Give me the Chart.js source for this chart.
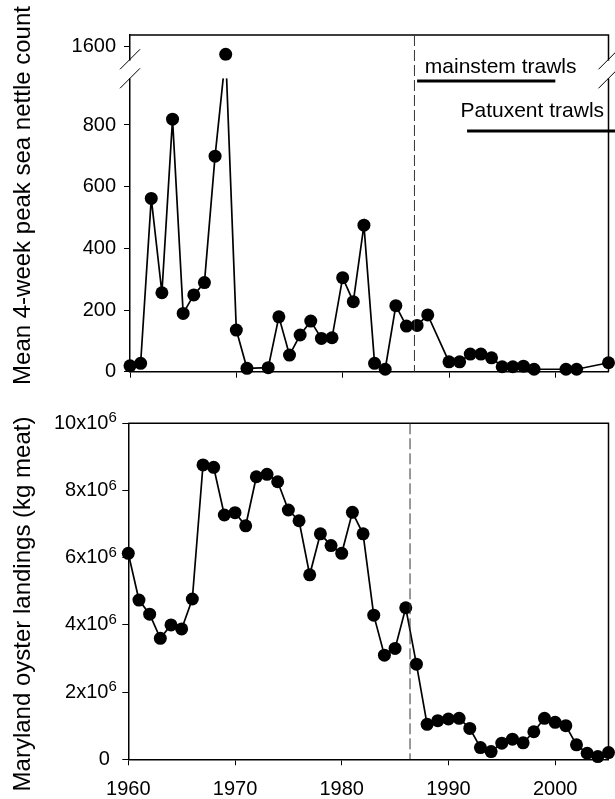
<!DOCTYPE html>
<html><head><meta charset="utf-8">
<script src="https://cdn.jsdelivr.net/npm/chart.js@4.4.1/dist/chart.umd.min.js"></script>
<style>
html,body{margin:0;padding:0;background:#fff;}
#wrap{position:relative;width:615px;height:799px;overflow:hidden;}
#c1{position:absolute;left:0;top:0;}
#c2{position:absolute;left:0;top:400px;}
</style></head><body>
<div id="wrap">
<canvas id="c1" width="615" height="400"></canvas>
<canvas id="c2" width="615" height="399"></canvas>
</div>
<script>
// ---------------- data ----------------
const nettleYears = [1960,1961,1962,1963,1964,1965,1966,1967,1968,1969,1970,1971,
  1973,1974,1975,1976,1977,1978,1979,1980,1981,1982,1983,1984,1985,1986,1987,1988,
  1990,1991,1992,1993,1994,1995,1996,1997,1998,2001,2002,2005];
const nettleCounts = [19,27,562,256,819,189,249,289,699,1550,135,11,
  13,178,54,119,164,108,110,305,227,475,27,8,214,148,150,184,
  32,32,57,57,45,16,16,18,8,8,8,29];

const oysterYears = [1960,1961,1962,1963,1964,1965,1966,1967,1968,1969,
  1970,1971,1972,1973,1974,1975,1976,1977,1978,1979,
  1980,1981,1982,1983,1984,1985,1986,1987,1988,1989,
  1990,1991,1992,1993,1994,1995,1996,1997,1998,1999,
  2000,2001,2002,2003,2004,2005];
// Maryland oyster landings, millions of kg meat
const oysterLandings = [6.13,4.74,4.32,3.60,4.00,3.88,4.77,8.76,8.69,7.27,
  7.34,6.95,8.41,8.48,8.26,7.42,7.10,5.49,6.71,6.36,
  6.13,7.35,6.71,4.29,3.10,3.30,4.51,2.83,1.04,1.15,
  1.20,1.22,0.92,0.35,0.23,0.48,0.60,0.49,0.82,1.22,
  1.10,1.00,0.43,0.18,0.08,0.20];

const xTickYears = [1960,1970,1980,1990,2000];
const nettleTickValues = [0,200,400,600,800,1600];
const oysterTickValues = [0,2,4,6,8,10];
const trawlLabels = ['mainstem trawls','Patuxent trawls'];
const trawlStart = [1987,1991.7];
const trawlEnd = [2000,2010];
const changeYearTop = 1986.75;
const changeYearBottom = 1986.4;
const nettleTitle = 'Mean 4-week peak sea nettle count';
const oysterTitle = 'Maryland oyster landings (kg meat)';

// axis break: values above 1000 are compressed above the break
function toDisplay(v){ return v <= 1000 ? v : 1054 + (v - 1600) * 0.5; }

// ---------------- style ----------------
const FONT = "'Liberation Sans', Arial, sans-serif";
Chart.defaults.font.family = FONT;
Chart.defaults.color = '#000';

function axisCommon(){
  return {
    grid:{drawOnChartArea:false, drawTicks:true, tickLength:6, color:'#000', lineWidth:1},
    border:{display:true, color:'#000', width:1.5}
  };
}
function drawTitle(ctx, text, cx, cy){
  ctx.save();
  ctx.font = '24px ' + FONT;
  ctx.fillStyle = '#000';
  ctx.textAlign = 'center';
  ctx.textBaseline = 'middle';
  ctx.translate(cx, cy);
  ctx.rotate(-Math.PI/2);
  ctx.fillText(text, 0, 0);
  ctx.restore();
}
function drawFrame(chart){
  const {ctx, chartArea:a} = chart;
  ctx.save();
  ctx.strokeStyle = '#000'; ctx.lineWidth = 1.5;
  ctx.beginPath();
  ctx.moveTo(a.left, a.top); ctx.lineTo(a.right, a.top); ctx.lineTo(a.right, a.bottom);
  ctx.stroke();
  ctx.restore();
}
function drawDashed(chart, year){
  const {ctx, chartArea:a, scales:{x}} = chart;
  const px = x.getPixelForValue(year);
  ctx.save();
  ctx.strokeStyle = '#333'; ctx.lineWidth = 1;
  ctx.setLineDash([11,4]);
  ctx.beginPath(); ctx.moveTo(px, a.top); ctx.lineTo(px, a.bottom); ctx.stroke();
  ctx.restore();
}

// ---------------- top chart ----------------
const topPlugin = {
  id:'topDecor',
  beforeDatasetsDraw(chart){ drawFrame(chart); },
  afterDatasetsDraw(chart){
    const {ctx, chartArea:a, scales:{x}} = chart;
    // break gap
    ctx.save();
    ctx.fillStyle = '#fff';
    ctx.fillRect(a.left - 4, a.top + 25.6, a.right - a.left + 8, 17.8);
    ctx.strokeStyle = '#000'; ctx.lineWidth = 1;
    [a.left, a.right].forEach(x0 => {
      [a.top + 24.3, a.top + 43.3].forEach(yc => {
        ctx.beginPath(); ctx.moveTo(x0 - 10, yc + 10); ctx.lineTo(x0 + 10, yc - 10); ctx.stroke();
      });
    });
    ctx.restore();
    drawDashed(chart, changeYearTop);
    // trawl survey periods
    const barY = [a.top + 46, a.top + 96];
    const textY = [a.top + 38.3, a.top + 82.3];
    const textDx = [7.7, -6.6];
    ctx.save();
    ctx.strokeStyle = '#000'; ctx.lineWidth = 3;
    ctx.fillStyle = '#000';
    ctx.font = '21px ' + FONT;
    ctx.textBaseline = 'alphabetic';
    ctx.textAlign = 'left';
    trawlLabels.forEach((lab, i) => {
      const x0 = x.getPixelForValue(trawlStart[i]);
      const x1 = x.getPixelForValue(trawlEnd[i]);
      ctx.beginPath(); ctx.moveTo(x0, barY[i]); ctx.lineTo(x1, barY[i]); ctx.stroke();
      ctx.fillText(lab, x0 + textDx[i], textY[i]);
    });
    ctx.restore();
  },
  afterDraw(chart){ drawTitle(chart.ctx, nettleTitle, 23.5, 195.5); }
};

new Chart(document.getElementById('c1'), {
  type:'line',
  data:{datasets:[{
    data: nettleYears.map((yr,i)=>({x:yr, y:toDisplay(nettleCounts[i])})),
    borderColor:'#000', borderWidth:1.7, backgroundColor:'#000',
    pointRadius:6.5, pointBackgroundColor:'#000', pointBorderWidth:0,
    tension:0, clip:false, fill:false
  }]},
  options:{
    responsive:false, animation:false, devicePixelRatio:1,
    layout:{padding:{left:0, right:4, top:35, bottom:0}},
    plugins:{legend:{display:false}, tooltip:{enabled:false}},
    scales:{
      x:Object.assign(axisCommon(), {
        type:'linear', min:1960, max:2005,
        afterBuildTicks:s=>{ s.ticks = xTickYears.map(v=>({value:v})); },
        ticks:{display:false},
        afterFit:s=>{ s.height = 28.3; }
      }),
      y:Object.assign(axisCommon(), {
        type:'linear', min:0, max:1091.8,
        afterBuildTicks:s=>{ s.ticks = nettleTickValues.map(v=>({value:toDisplay(v)})); },
        ticks:{font:{size:20}, color:'#000', padding:8, autoSkip:false,
               callback:(v,i)=>String(nettleTickValues[i])},
        afterFit:s=>{ s.width = 130; }
      })
    }
  },
  plugins:[topPlugin]
});

// ---------------- bottom chart ----------------
const bottomPlugin = {
  id:'bottomDecor',
  beforeDatasetsDraw(chart){ drawFrame(chart); },
  afterDatasetsDraw(chart){ drawDashed(chart, changeYearBottom); },
  afterDraw(chart){
    const {ctx, scales:{y}} = chart;
    ctx.save();
    ctx.fillStyle = '#000';
    const right = y.right - 11.5;
    oysterTickValues.forEach(v => {
      const py = y.getPixelForValue(v);
      if (v === 0) {
        ctx.font = '20px ' + FONT; ctx.textAlign = 'right'; ctx.textBaseline = 'middle';
        ctx.fillText('0', right - 7, py);
        return;
      }
      ctx.font = '15px ' + FONT;
      const ew = ctx.measureText('6').width;
      ctx.textAlign = 'right'; ctx.textBaseline = 'alphabetic';
      ctx.fillText('6', right, py - 1);
      ctx.font = '20px ' + FONT; ctx.textBaseline = 'middle';
      ctx.fillText(v + 'x10', right - ew, py);
    });
    ctx.restore();
    drawTitle(ctx, oysterTitle, 23.5, 204);
  }
};

new Chart(document.getElementById('c2'), {
  type:'line',
  data:{datasets:[{
    data: oysterYears.map((yr,i)=>({x:yr, y:oysterLandings[i]})),
    borderColor:'#000', borderWidth:1.7, backgroundColor:'#000',
    pointRadius:6.5, pointBackgroundColor:'#000', pointBorderWidth:0,
    tension:0, clip:false, fill:false
  }]},
  options:{
    responsive:false, animation:false, devicePixelRatio:1,
    layout:{padding:{left:0, right:5.7, top:23.3, bottom:0}},
    plugins:{legend:{display:false}, tooltip:{enabled:false}},
    scales:{
      x:Object.assign(axisCommon(), {
        type:'linear', min:1960, max:2005,
        afterBuildTicks:s=>{ s.ticks = xTickYears.map(v=>({value:v})); },
        ticks:{font:{size:20}, color:'#000', padding:12, autoSkip:false, maxRotation:0,
               callback:(v)=>String(v)},
        afterFit:s=>{ s.height = 39.7; }
      }),
      y:Object.assign(axisCommon(), {
        type:'linear', min:0, max:10,
        afterBuildTicks:s=>{ s.ticks = oysterTickValues.map(v=>({value:v})); },
        ticks:{display:false},
        afterFit:s=>{ s.width = 128.3; }
      })
    }
  },
  plugins:[bottomPlugin]
});
</script>
</body></html>
